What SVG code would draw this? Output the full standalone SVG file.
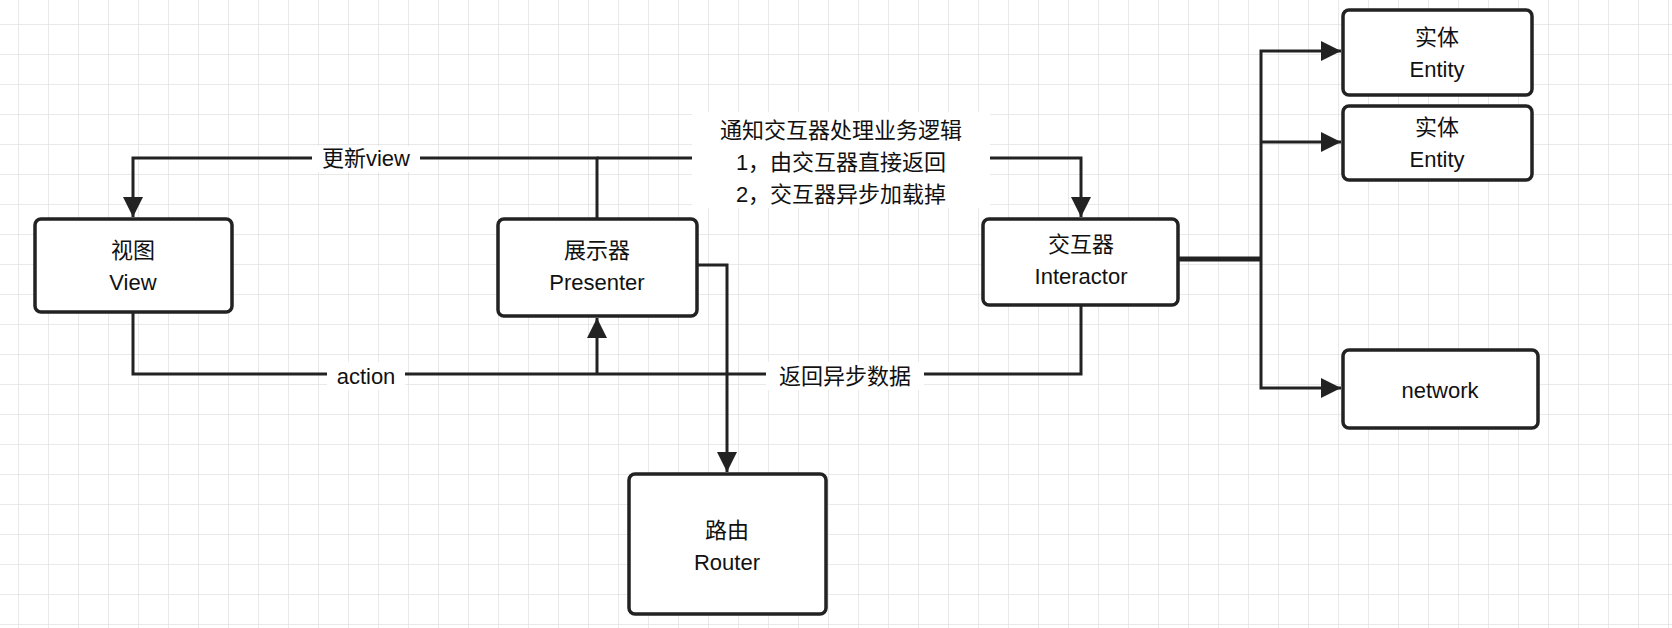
<svg xmlns="http://www.w3.org/2000/svg" width="1672" height="628" viewBox="0 0 1672 628">
<style>
.box{fill:#fff;stroke:#222;stroke-width:3.5}
.t{font-family:"Liberation Sans","Noto Sans CJK SC",sans-serif;font-size:22px;fill:#111;text-anchor:middle}
.c{fill:none;stroke:#222;stroke-width:3}
.lb{fill:#fff}
</style>
<defs>
<pattern id="g" x="18" y="24" width="30" height="30" patternUnits="userSpaceOnUse">
<path d="M0 0H30M0 0V30" fill="none" stroke="#e2e2e2" stroke-width="1.5"/>
</pattern>
<marker id="a" markerWidth="8" markerHeight="8" refX="7" refY="4" orient="auto" markerUnits="userSpaceOnUse" viewBox="0 0 8 8">
<path d="M0 0L8 4L0 8Z" fill="#222"/>
</marker>
<marker id="b" viewBox="0 0 20 20" refX="20" refY="10" markerWidth="22" markerHeight="20" orient="auto" markerUnits="userSpaceOnUse">
<path d="M0 0L20 10L0 20Z" fill="#222"/>
</marker>
</defs>
<rect width="1672" height="628" fill="#fff"/>
<rect width="1672" height="628" fill="url(#g)"/>
<g id="connectors">
<path class="c" d="M597 219V158H133V217" marker-end="url(#b)"/>
<path class="c" d="M597 158H1081V217" marker-end="url(#b)"/>
<path class="c" d="M133 312V374H1081V305"/>
<path class="c" d="M597 374V318" marker-end="url(#b)"/>
<path class="c" d="M697 265H727V472" marker-end="url(#b)"/>
<path class="c" d="M1178 259H1261" style="stroke-width:5"/>
<path class="c" d="M1261 259V51H1341" marker-end="url(#b)"/>
<path class="c" d="M1261 142H1341" marker-end="url(#b)"/>
<path class="c" d="M1261 259V388H1341" marker-end="url(#b)"/>
<rect class="lb" x="312" y="146" width="108" height="26"/>
<text class="t" x="366" y="166">更新view</text>
<rect class="lb" x="692" y="112" width="298" height="96"/>
<text class="t" x="841" y="138">通知交互器处理业务逻辑</text>
<text class="t" x="841" y="170">1，由交互器直接返回</text>
<text class="t" x="841" y="202">2，交互器异步加载掉</text>
<rect class="lb" x="327" y="362" width="78" height="28"/>
<text class="t" x="366" y="384">action</text>
<rect class="lb" x="766" y="362" width="158" height="28"/>
<text class="t" x="845" y="384">返回异步数据</text>
</g>
<g id="view"><rect class="box" x="35" y="219" width="197" height="93" rx="6"/><text class="t" x="133" y="258">视图</text><text class="t" x="133" y="290">View</text></g>
<g id="presenter"><rect class="box" x="498" y="219" width="199" height="97" rx="6"/><text class="t" x="597" y="258">展示器</text><text class="t" x="597" y="290">Presenter</text></g>
<g id="interactor"><rect class="box" x="983" y="219" width="195" height="86" rx="6"/><text class="t" x="1081" y="252">交互器</text><text class="t" x="1081" y="284">Interactor</text></g>
<g id="router"><rect class="box" x="629" y="474" width="197" height="140" rx="6"/><text class="t" x="727" y="538">路由</text><text class="t" x="727" y="570">Router</text></g>
<g id="entity1"><rect class="box" x="1343" y="10" width="189" height="85" rx="6"/><text class="t" x="1437" y="45">实体</text><text class="t" x="1437" y="77">Entity</text></g>
<g id="entity2"><rect class="box" x="1343" y="106" width="189" height="74" rx="6"/><text class="t" x="1437" y="135">实体</text><text class="t" x="1437" y="167">Entity</text></g>
<g id="network"><rect class="box" x="1343" y="350" width="195" height="78" rx="6"/><text class="t" x="1440" y="398">network</text></g>
</svg>
